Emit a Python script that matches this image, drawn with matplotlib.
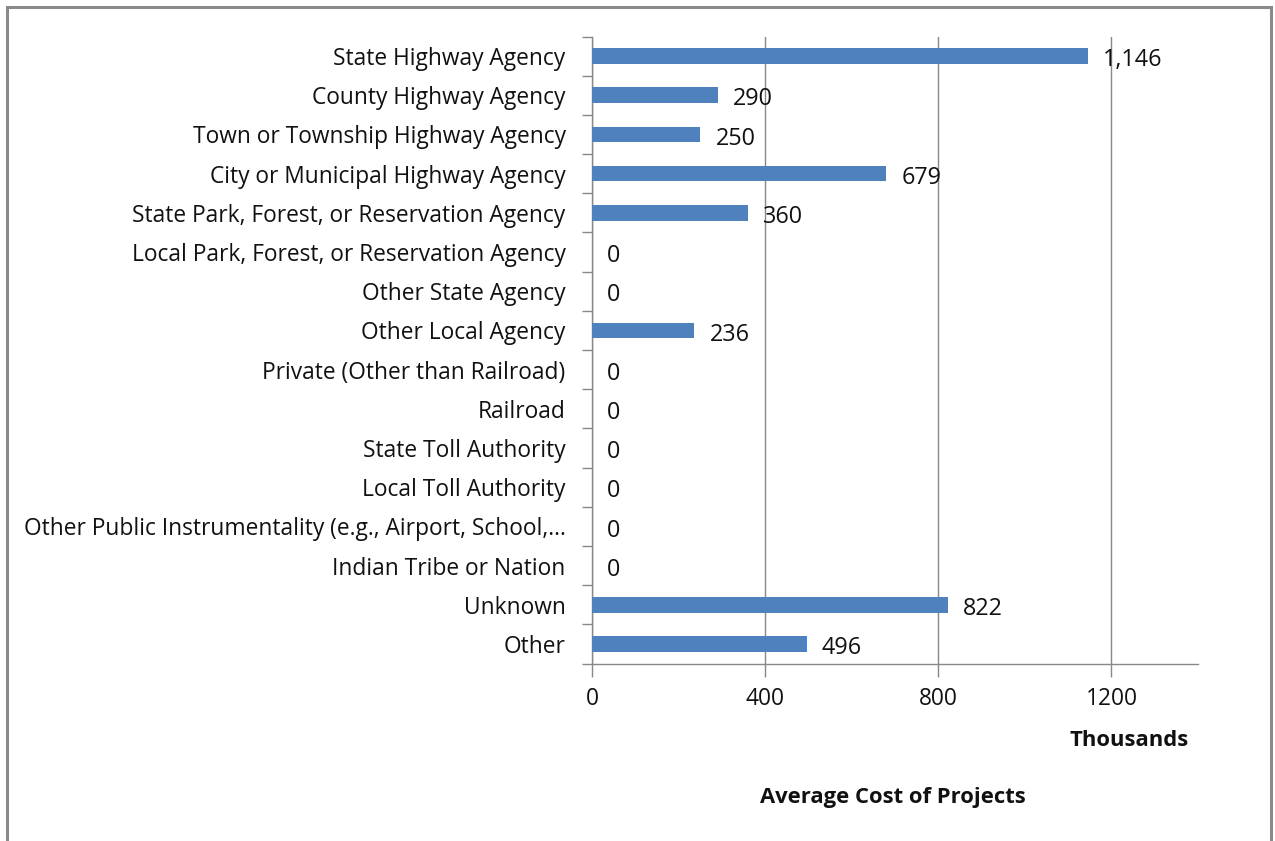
import matplotlib
matplotlib.use("Agg")
import matplotlib.pyplot as plt
from matplotlib.patches import Rectangle

categories = [
    "State Highway Agency",
    "County Highway Agency",
    "Town or Township Highway Agency",
    "City or Municipal Highway Agency",
    "State Park, Forest, or Reservation Agency",
    "Local Park, Forest, or Reservation Agency",
    "Other State Agency",
    "Other Local Agency",
    "Private (Other than Railroad)",
    "Railroad",
    "State Toll Authority",
    "Local Toll Authority",
    "Other Public Instrumentality (e.g., Airport, School,...",
    "Indian Tribe or Nation",
    "Unknown",
    "Other",
]
values = [1146, 290, 250, 679, 360, 0, 0, 236, 0, 0, 0, 0, 0, 0, 822, 496]
xticks = [0, 400, 800, 1200]

plt.rcParams['font.family'] = ['Open Sans', 'DejaVu Sans']

W, H = 1275, 841
fig = plt.figure(figsize=(W / 100, H / 100), dpi=100)
fig.patch.set_facecolor("white")

# outer frame
fig.add_artist(Rectangle((7 / W, -0.01), (1271 - 7) / W, 1.01 - 7 / H,
                         transform=fig.transFigure, fill=False,
                         edgecolor="#8a8a8a", linewidth=2.2))

left, right = 592 / W, 1198 / W
top, bottom = 1 - 36.5 / H, 1 - 663.5 / H
ax = fig.add_axes([left, bottom, right - left, top - bottom])

n = len(categories)
ys = list(range(n))
ax.barh(ys, values, height=0.4, color="#4F81BD", edgecolor="none", zorder=3)
ax.set_ylim(n - 0.5, -0.5)
ax.set_xlim(0, 1400)

for y, v in zip(ys, values):
    ax.annotate(f"{v:,}", xy=(v, y), xytext=(11, -3), textcoords="offset points",
                ha="left", va="center", fontsize=16.8, color="#111111", zorder=4)

ax.set_yticks(ys)
ax.set_yticklabels(categories, fontsize=16.4, color="#111111")
ax.set_yticks([i - 0.5 for i in range(n + 1)], minor=True)
ax.tick_params(axis="y", which="major", length=0, pad=19)
ax.tick_params(axis="y", which="minor", length=7, width=1, color="#888888")

ax.set_xticks(xticks)
ax.set_xticklabels([str(t) for t in xticks], fontsize=16.4, color="#111111")
ax.tick_params(axis="x", length=9, width=1, color="#888888", pad=8)

ax.grid(axis="x", color="#888888", linewidth=1, zorder=0)
for s in ["top", "right"]:
    ax.spines[s].set_visible(False)
for s in ["left", "bottom"]:
    ax.spines[s].set_color("#888888")
    ax.spines[s].set_linewidth(1)

fig.text(1129 / W, 1 - 741 / H, "Thousands", ha="center", va="center",
         fontsize=15.8, fontweight="bold", color="#111111")
fig.text(893 / W, 1 - 797 / H, "Average Cost of Projects", ha="center", va="center",
         fontsize=15.8, fontweight="bold", color="#111111")

fig.savefig("out.png", dpi=100, facecolor="white")
